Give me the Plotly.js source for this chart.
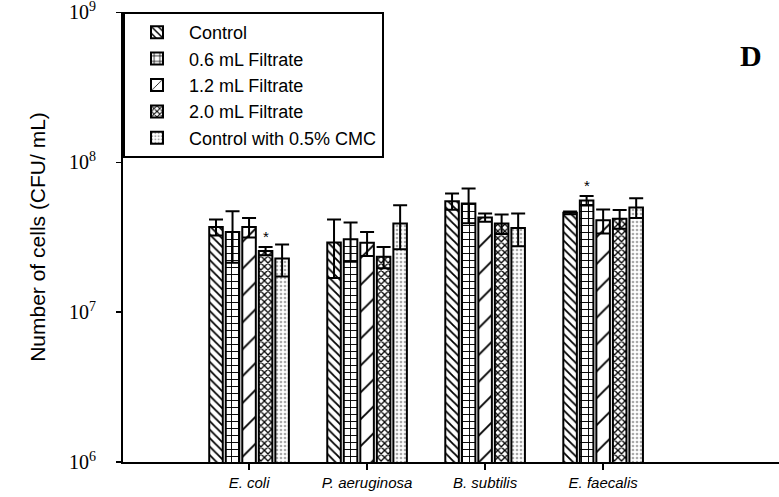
<!DOCTYPE html>
<html>
<head>
<meta charset="utf-8">
<script src="https://cdn.plot.ly/plotly-3.0.1.min.js"></script>
<style>html,body{margin:0;padding:0;background:#fff;}#chart{width:779px;height:497px;}</style>
</head>
<body>
<div id="chart"></div>
<script>
var categories = ["E. coli", "P. aeruginosa", "B. subtilis", "E. faecalis"];
var seriesNames = ["Control", "0.6 mL Filtrate", "1.2 mL Filtrate", "2.0 mL Filtrate", "Control with 0.5% CMC"];
var control = [3.7e7, 2.92e7, 5.5e7, 4.6e7];
var controlErr = [0.45e7, 1.23e7, 0.68e7, 0.1e7];
var f06 = [3.43e7, 3.07e7, 5.3e7, 5.55e7];
var f06Err = [1.29e7, 0.9e7, 1.38e7, 0.4e7];
var f12 = [3.7e7, 2.9e7, 4.28e7, 4.1e7];
var f12Err = [0.55e7, 0.53e7, 0.27e7, 0.75e7];
var f20 = [2.56e7, 2.34e7, 3.9e7, 4.2e7];
var f20Err = [0.16e7, 0.38e7, 0.58e7, 0.6e7];
var cmc = [2.28e7, 3.9e7, 3.65e7, 5.0e7];
var cmcErr = [0.55e7, 1.27e7, 0.9e7, 0.75e7];
var yTickVals = [1e6, 1e7, 1e8, 1e9];
var yTickText = ["10<sup>6</sup>", "10<sup>7</sup>", "10<sup>8</sup>", "10<sup>9</sup>"];
// significance markers: [category index, series index]
var sigMarks = [[0, 3], [3, 1]];

var values = [control, f06, f12, f20, cmc];
var errs = [controlErr, f06Err, f12Err, f20Err, cmcErr];
var patterns = [
  {shape: "\\", size: 6, solidity: 0.3, fgcolor: "#000", bgcolor: "#fff"},
  {shape: "+", size: 7, solidity: 0.25, fgcolor: "#000", bgcolor: "#fff"},
  {shape: "/", size: 19, solidity: 0.1, fgcolor: "#000", bgcolor: "#fff"},
  {shape: "x", size: 5, solidity: 0.45, fgcolor: "#000", bgcolor: "#fff"},
  {shape: ".", size: 4, solidity: 0.35, fgcolor: "#aaa", bgcolor: "#fff"}
];

var traces = values.map(function (v, i) {
  return {
    type: "bar",
    name: seriesNames[i],
    x: categories,
    y: v,
    marker: {color: "#fff", pattern: patterns[i], line: {color: "#000", width: 2}},
    error_y: {type: "data", array: errs[i], symmetric: true, color: "#000", thickness: 2, width: 7}
  };
});

var bargap = 0.3;
var slot = (1 - bargap) / seriesNames.length;
var annotations = sigMarks.map(function (m) {
  var c = m[0], s = m[1];
  return {
    x: c + (s - (seriesNames.length - 1) / 2) * slot,
    y: Math.log10(values[s][c] + errs[s][c]),
    xref: "x", yref: "y", text: "*", showarrow: false,
    yanchor: "bottom", yshift: 0,
    font: {family: "Liberation Sans, Arial", size: 15, color: "#000"}
  };
});
annotations.push({
  x: 0.957, y: 0.904, xref: "paper", yref: "paper", text: "<b>D</b>", showarrow: false,
  xanchor: "center", yanchor: "middle",
  font: {family: "Liberation Serif, Times New Roman", size: 30, color: "#000"}
});

var layout = {
  width: 779, height: 497,
  margin: {l: 123, r: 0, t: 12, b: 35, pad: 0},
  paper_bgcolor: "#fff", plot_bgcolor: "#fff",
  barmode: "group", bargap: bargap, bargroupgap: 0.18,
  showlegend: true,
  legend: {
    x: 0, y: 1, xanchor: "left", yanchor: "top",
    bgcolor: "#fff", bordercolor: "#000", borderwidth: 2,
    font: {family: "Liberation Sans, Arial", size: 18, color: "#000"},
    tracegroupgap: 0, traceorder: "normal", itemwidth: 54
  },
  xaxis: {
    type: "category", range: [-1.068, 4.49],
    showline: true, linecolor: "#000", linewidth: 2,
    ticks: "outside", ticklen: 6, tickwidth: 1.5, tickcolor: "#000",
    showgrid: false, zeroline: false,
    tickfont: {family: "Liberation Sans, Arial", size: 15, color: "#000", style: "italic"},
    ticklabelstandoff: 0
  },
  yaxis: {
    type: "log", range: [6, 9.003],
    tickmode: "array", tickvals: yTickVals, ticktext: yTickText,
    ticklabeloverflow: "allow",
    showline: true, linecolor: "#000", linewidth: 2,
    ticks: "outside", ticklen: 5, tickwidth: 1.5, tickcolor: "#000",
    showgrid: false, zeroline: false,
    tickfont: {family: "Liberation Serif, Times New Roman", size: 20, color: "#000"},
    ticklabelstandoff: 16,
    title: {text: "Number of cells (CFU/ mL)", standoff: 18,
      font: {family: "Liberation Sans, Arial", size: 21, color: "#000"}}
  },
  annotations: annotations
};

Plotly.newPlot("chart", traces, layout, {displayModeBar: false, staticPlot: true});
</script>
</body>
</html>
